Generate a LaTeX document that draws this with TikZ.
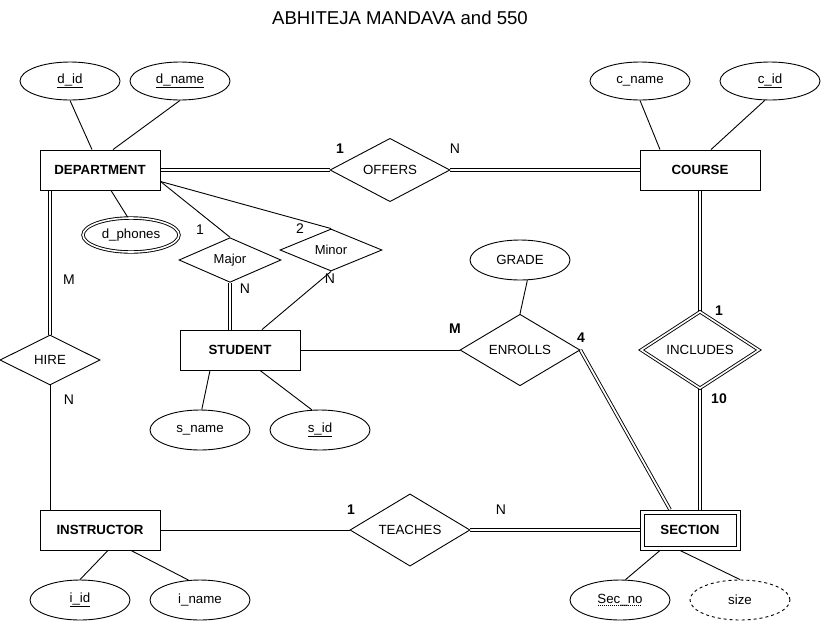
\documentclass[tikz,border=0pt]{standalone}
\usepackage{fontspec}
\setmainfont{Liberation Sans}
\usetikzlibrary{shapes.geometric,calc}
\pgfdeclarelayer{background}
\pgfsetlayers{background,main}
\newcommand\mydotul[1]{\setbox0\hbox{#1}\leavevmode\rlap{\copy0}\raisebox{-2.5pt}{\hbox to\wd0{\leaders\hbox to 2pt{\hss\rule{1pt}{0.6pt}\hss}\hfill}}}
\begin{document}
\begin{tikzpicture}[x=1pt,y=-1pt,line width=0.9pt,
  every node/.style={font=\fontsize{13.3}{15}\selectfont,inner sep=0pt},
  ent/.style={draw,fill=white,rectangle,minimum width=120pt,minimum height=40pt,font=\fontsize{13.3}{15}\selectfont\bfseries},
  attr/.style={draw,fill=white,ellipse,minimum width=100pt,minimum height=38pt},
  rel/.style={draw,fill=white,diamond,minimum width=120pt,minimum height=60pt},
  smallrel/.style={draw,fill=white,diamond,minimum width=102pt,minimum height=40pt,font=\fontsize{13}{15}\selectfont},
  dbl/.style={double,double distance=1.8pt},
  card/.style={font=\fontsize{14}{16}\selectfont},
  bcard/.style={font=\fontsize{14}{16}\selectfont\bfseries}]
\useasboundingbox (0,0) rectangle (822,622);

\node[font=\fontsize{18.6}{20}\selectfont] (title) at (400,18) {ABHITEJA MANDAVA and 550};

% entities
\node[ent] (dept) at (100,170) {DEPARTMENT};
\node[ent] (course) at (700,170) {COURSE};
\node[ent] (stu) at (240,350) {STUDENT};
\node[ent] (instr) at (100,530) {INSTRUCTOR};
\node[ent,minimum width=100pt] (sec) at (690,530) {SECTION};
\draw ([shift={(4.5pt,-4.5pt)}]sec.north west) rectangle ([shift={(-4.5pt,4.5pt)}]sec.south east);

% attributes
\node[attr] (did) at (70,81) {\underline{d\_id}};
\node[attr] (dname) at (180,81) {\underline{d\_name}};
\node[attr,double,double distance=1.6pt,minimum width=96pt,minimum height=34pt] (dph) at (131,235) {d\_phones};
\node[attr] (cname) at (640,81) {c\_name};
\node[attr] (cid) at (770,81) {\underline{c\_id}};
\node[attr,minimum height=40pt] (grade) at (520,260) {GRADE};
\node[attr,minimum height=40pt] (sname) at (200,430) {s\_name};
\node[attr,minimum height=40pt] (sid) at (320,430) {\underline{s\_id}};
\node[attr,minimum height=40pt] (iid) at (80,600) {\underline{i\_id}};
\node[attr,minimum height=40pt] (iname) at (200,600) {i\_name};
\node[attr,minimum height=40pt] (secno) at (620,600) {\mydotul{Sec\_no}};
\node[attr,minimum height=40pt,dashed] (size) at (740,600) {size};

% relationships
\node[rel] (offers) at (390,170) {OFFERS};
\node[rel,double,double distance=1.6pt,minimum width=118pt,minimum height=58pt] (incl) at (700,350) {INCLUDES};
\node[rel] (enr) at (520,350) {ENROLLS};
\node[rel] (teach) at (410,530) {TEACHES};
\node[rel,minimum width=100pt,minimum height=50pt] (hire) at (50,360) {HIRE};
\node[smallrel] (major) at (230,260) {Major};
\node[smallrel] (minor) at (331,250) {Minor};

\begin{pgfonlayer}{background}
\begin{scope}[line width=0.9pt]
% attribute lines
\draw (did.south) -- ([xshift=-8pt]dept.north);
\draw (dname.south) -- ([xshift=13pt]dept.north);
\draw ([xshift=11pt]dept.south) -- (dph.100);
\draw (cname.south) -- ([xshift=-40pt]course.north);
\draw (cid.255) -- ([xshift=11pt]course.north);
\draw (grade.-70) -- (enr.north);
\draw ([xshift=-30pt]stu.south) -- (sname.85);
\draw ([xshift=20pt]stu.south) -- (sid.112);
\draw ([xshift=8pt]instr.south) -- (iid.north);
\draw ([xshift=31pt]instr.south) -- (iname.120);
\draw ([xshift=-30pt]sec.south) -- (secno.75);
\draw ([xshift=-10pt]sec.south) -- (size.north);

% relationship lines
\draw[dbl] (dept.east) -- (offers.west);
\draw[dbl] (offers.east) -- (course.west);
\draw[dbl] (course.south) -- (incl.north);
\draw[dbl] (incl.south) -- (incl.south |- sec.north);
\draw[dbl] (enr.east) -- ([xshift=-20pt]sec.north);
\draw[dbl] (teach.east) -- (sec.west);
\draw (instr.east) -- (teach.west);
\draw[dbl] (hire.north |- dept.south) -- (hire.north);
\draw (hire.south) -- (hire.south |- instr.north);
\draw ([yshift=9pt]dept.south east) -- (major.north);
\draw ([yshift=9pt]dept.south east) -- (minor.north);
\draw[dbl] (major.south) -- (major.south |- stu.north);
\draw (minor.south) -- ([xshift=22pt]stu.north);
\draw (stu.east) -- (enr.west);
\end{scope}
\end{pgfonlayer}

% cardinalities
\node[bcard] (c1) at (340,149) {1};
\node[card] (c2) at (455,149) {N};
\node[card] (c3) at (200,230) {1};
\node[card] (c4) at (300,229) {2};
\node[card] (c5) at (245,289) {N};
\node[card] (c6) at (330,279) {N};
\node[card] (c7) at (69,280) {M};
\node[card] (c8) at (69,400) {N};
\node[bcard] (c9) at (455,329) {M};
\node[bcard] (c10) at (581,338) {4};
\node[bcard] (c11) at (719,311) {1};
\node[bcard] (c12) at (719,399) {10};
\node[bcard] (c13) at (351,510) {1};
\node[card] (c14) at (501,510) {N};
\end{tikzpicture}
\end{document}
